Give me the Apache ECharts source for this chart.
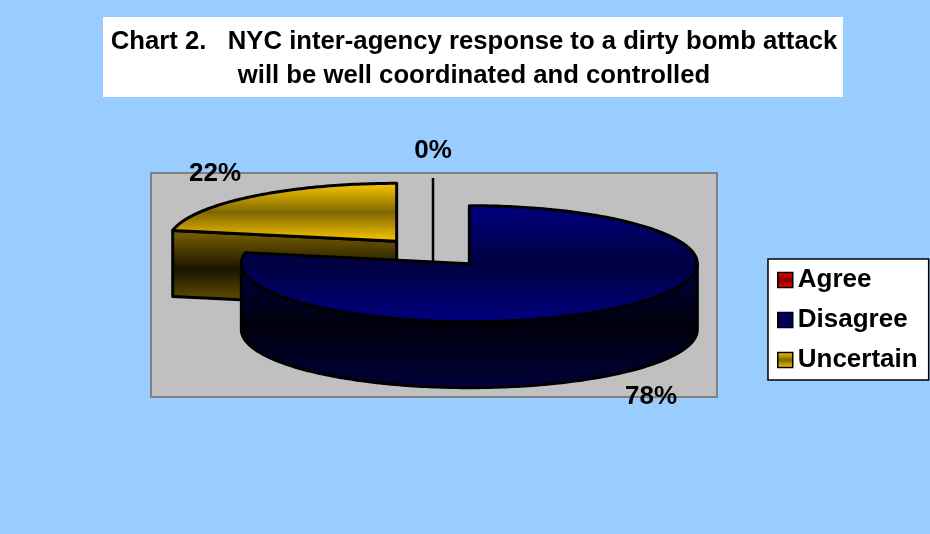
<!DOCTYPE html>
<html>
<head>
<meta charset="utf-8">
<script src="https://cdn.jsdelivr.net/npm/echarts@6/dist/echarts.min.js"></script>
<style>
  html, body { margin: 0; padding: 0; background: #99CCFF; }
  #chart { width: 930px; height: 534px; }
</style>
</head>
<body>
<div id="chart"></div>
<script>
// Survey answers (percent of respondents)
const categories = ['Agree', 'Disagree', 'Uncertain'];
const shares = [0, 78, 22];
const baseColors = ['#FF0000', '#000080', '#FFCC00'];

const titleLines = [
  'Chart 2.   NYC inter-agency response to a dirty bomb attack',
  'will be well coordinated and controlled'
];

const FONT = '"Liberation Sans", Arial, Helvetica, sans-serif';

// Geometry of the tilted, exploded pie (screen pixels)
const PIE = { cx: 433, cy: 252.5, rx: 228, ry: 58, depth: 66, explode: 0.25 };

const total = shares.reduce((a, b) => a + b, 0);
const startAngles = [];
(function () {
  let acc = 0;
  shares.forEach(v => { startAngles.push(acc / total * 2 * Math.PI); acc += v; });
})();

// angle measured clockwise from 12 o'clock
function ellPt(c, th, k) {
  return [c[0] + PIE.rx * k * Math.sin(th), c[1] - PIE.ry * k * Math.cos(th)];
}
function arcPts(c, a, b, dy) {
  const n = Math.max(2, Math.ceil(Math.abs(b - a) / (Math.PI / 180)));
  const out = [];
  for (let j = 0; j <= n; j++) {
    const t = a + (b - a) * j / n;
    const p = ellPt(c, t, 1);
    out.push([p[0], p[1] + dy]);
  }
  return out;
}
function shade(hex, f) {
  const n = parseInt(hex.slice(1), 16);
  const r = Math.round(((n >> 16) & 255) * f);
  const g = Math.round(((n >> 8) & 255) * f);
  const b = Math.round((n & 255) * f);
  return 'rgb(' + r + ',' + g + ',' + b + ')';
}
function topFill(c) {
  return new echarts.graphic.LinearGradient(0, 0, 0, 1, [
    { offset: 0, color: c }, { offset: 0.5, color: shade(c, 0.5) }, { offset: 1, color: c }
  ]);
}
function sideFill(c) {
  return new echarts.graphic.LinearGradient(0, 0, 0, 1, [
    { offset: 0, color: shade(c, 0.5) }, { offset: 0.5, color: shade(c, 0.1) }, { offset: 1, color: shade(c, 0.45) }
  ]);
}
function sliceCenter(i) {
  const span = shares[i] / total * 2 * Math.PI;
  return ellPt([PIE.cx, PIE.cy], startAngles[i] + span / 2, PIE.explode);
}

// slices further back get drawn first
const depthRank = categories.map((_, i) => i)
  .sort((a, b) => sliceCenter(a)[1] - sliceCenter(b)[1]);
const zOf = {};
depthRank.forEach((idx, k) => { zOf[idx] = 2 + k; });

function makeRender(i) {
  return function (params, api) {
    const value = api.value(0);
    const span = value / total * 2 * Math.PI;
    const a0 = startAngles[i], a1 = a0 + span, mid = a0 + span / 2;
    const c = ellPt([PIE.cx, PIE.cy], mid, PIE.explode);
    const base = baseColors[i];
    const line = { stroke: '#000', lineWidth: 3, lineJoin: 'round' };
    const kids = [];

    // label position
    const lx = c[0] + PIE.rx * 1.25 * Math.sin(mid);
    const ly = c[1] - PIE.ry * 1.5 * Math.cos(mid) + (Math.cos(mid) < 0 ? PIE.depth : 0);

    if (span < 0.2) {
      // thin slice: leader line from label to slice
      kids.push({
        type: 'line',
        shape: { x1: lx, y1: ly + 27, x2: c[0], y2: c[1] + PIE.depth / 2 },
        style: { stroke: '#000', lineWidth: 2.5 }
      });
    }
    if (span > 0) {
      // radial walls turned toward the viewer
      const faces = [];
      if (Math.sin(a0) < -1e-6) faces.push(a0);
      if (Math.sin(a1) > 1e-6) faces.push(a1);
      faces.forEach(t => {
        const p = ellPt(c, t, 1);
        kids.push({
          type: 'polygon',
          shape: { points: [c, p, [p[0], p[1] + PIE.depth], [c[0], c[1] + PIE.depth]] },
          style: Object.assign({ fill: sideFill(base) }, line)
        });
      });
      // front curved wall
      const w0 = Math.max(a0, Math.PI / 2), w1 = Math.min(a1, 1.5 * Math.PI);
      if (w1 > w0) {
        const top = arcPts(c, w0, w1, 0);
        const bot = arcPts(c, w0, w1, PIE.depth).reverse();
        kids.push({
          type: 'polygon',
          shape: { points: top.concat(bot) },
          style: Object.assign({ fill: sideFill(base) }, line)
        });
      }
      // top face
      kids.push({
        type: 'polygon',
        shape: { points: [c].concat(arcPts(c, a0, a1, 0)) },
        style: Object.assign({ fill: topFill(base) }, line)
      });
    }
    kids.push({
      type: 'text',
      z2: 10,
      style: {
        text: Math.round(value / total * 100) + '%',
        x: lx, y: ly, align: 'center', verticalAlign: 'middle',
        fontSize: 26, fontWeight: 'bold', fontFamily: FONT, fill: '#000'
      }
    });
    return { type: 'group', children: kids };
  };
}

function legendFill(c) {
  return new echarts.graphic.LinearGradient(0, 0, 0, 1, [
    { offset: 0, color: c }, { offset: 0.5, color: shade(c, 0.5) }, { offset: 1, color: c }
  ]);
}

const chart = echarts.init(document.getElementById('chart'), null, { renderer: 'canvas' });
chart.setOption({
  animation: false,
  backgroundColor: '#99CCFF',
  title: {
    text: titleLines.join('\n'),
    left: 474, top: 25, padding: 0, textAlign: 'center',
    textStyle: { fontSize: 25.7, fontWeight: 'bold', color: '#000', lineHeight: 34, fontFamily: FONT }
  },
  graphic: [
    { type: 'rect', z: 0, silent: true, shape: { x: 103, y: 17, width: 740, height: 80 }, style: { fill: '#fff' } },
    { type: 'rect', z: 0, silent: true, shape: { x: 151, y: 173, width: 566, height: 224 },
      style: { fill: '#C0C0C0', stroke: '#808080', lineWidth: 2 } }
  ],
  legend: {
    orient: 'vertical', left: 768, top: 259,
    padding: [8, 11, 7, 9], itemGap: 14, itemWidth: 15, itemHeight: 15,
    backgroundColor: '#fff', borderColor: '#000', borderWidth: 1.5,
    icon: 'rect',
    textStyle: { fontSize: 26, fontWeight: 'bold', color: '#000', fontFamily: FONT },
    data: categories.map((name, i) => ({
      name, itemStyle: { color: legendFill(baseColors[i]), borderColor: '#000', borderWidth: 1.5 }
    }))
  },
  series: categories.map((name, i) => ({
    type: 'custom',
    name,
    coordinateSystem: 'none',
    z: zOf[i],
    itemStyle: { color: baseColors[i] },
    renderItem: makeRender(i),
    data: [shares[i]]
  }))
});
</script>
</body>
</html>
